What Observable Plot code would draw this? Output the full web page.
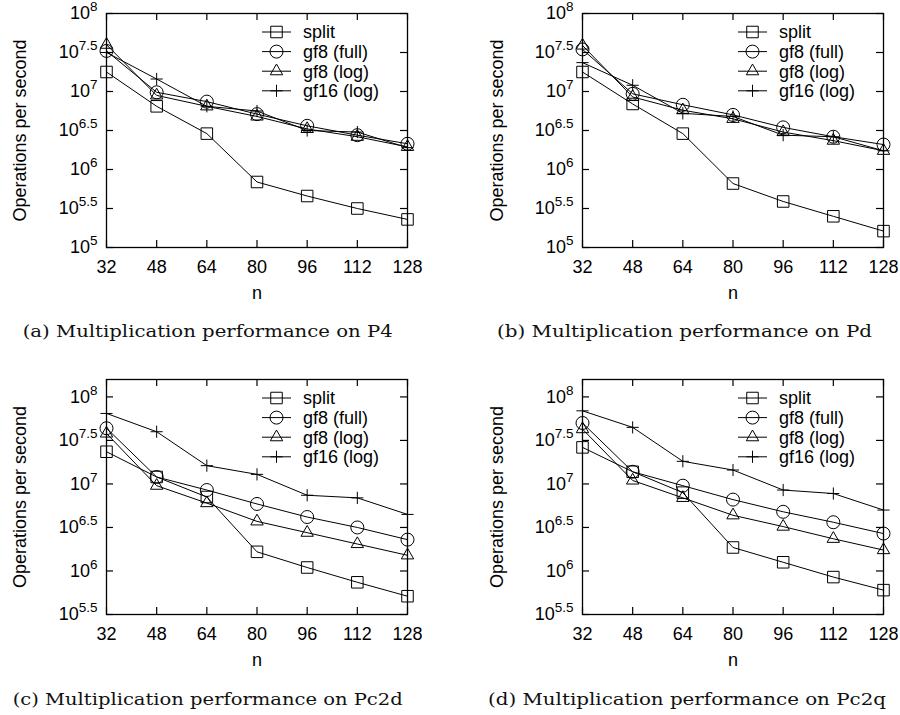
<!DOCTYPE html>
<html><head><meta charset="utf-8">
<script src="https://cdn.jsdelivr.net/npm/d3@7"></script>
<script src="https://cdn.jsdelivr.net/npm/@observablehq/plot@0.6"></script>
<style>
body{margin:0;background:#fff;}
#wrap{position:relative;width:900px;height:715px;overflow:hidden;background:#fff}
.panel{position:absolute}
#caps{position:absolute;left:0;top:0}
</style></head><body><div id="wrap"></div>
<script>
// ---- data (values are log10 of operations per second) ----
const nValues = [32, 48, 64, 80, 96, 112, 128];
const seriesNames = ["split", "gf8 (full)", "gf8 (log)", "gf16 (log)"];
const yTickExpTop = [5, 5.5, 6, 6.5, 7, 7.5, 8];
const yTickExpBottom = [5.5, 6, 6.5, 7, 7.5, 8];

const p4Split = [7.25, 6.81, 6.46, 5.84, 5.66, 5.50, 5.36];
const p4Full  = [7.52, 6.99, 6.87, 6.71, 6.56, 6.44, 6.33];
const p4Log   = [7.60, 6.95, 6.81, 6.68, 6.52, 6.42, 6.29];
const p4Gf16  = [7.50, 7.16, 6.81, 6.75, 6.50, 6.48, 6.28];

const pdSplit = [7.25, 6.84, 6.46, 5.82, 5.59, 5.40, 5.21];
const pdFull  = [7.54, 6.97, 6.83, 6.70, 6.54, 6.42, 6.32];
const pdLog   = [7.59, 6.93, 6.76, 6.65, 6.48, 6.37, 6.24];
const pdGf16  = [7.37, 7.08, 6.72, 6.68, 6.44, 6.42, 6.24];

const pc2dSplit = [7.37, 7.08, 6.85, 6.22, 6.04, 5.87, 5.71];
const pc2dFull  = [7.64, 7.08, 6.93, 6.77, 6.62, 6.50, 6.36];
const pc2dLog   = [7.58, 6.98, 6.78, 6.57, 6.44, 6.31, 6.18];
const pc2dGf16  = [7.81, 7.60, 7.21, 7.11, 6.87, 6.84, 6.65];

const pc2qSplit = [7.42, 7.14, 6.90, 6.27, 6.10, 5.93, 5.78];
const pc2qFull  = [7.70, 7.14, 6.98, 6.82, 6.68, 6.56, 6.43];
const pc2qLog   = [7.63, 7.04, 6.84, 6.64, 6.51, 6.37, 6.24];
const pc2qGf16  = [7.84, 7.65, 7.26, 7.16, 6.93, 6.89, 6.70];

const captions = [
  "(a) Multiplication performance on P4",
  "(b) Multiplication performance on Pd",
  "(c) Multiplication performance on Pc2d",
  "(d) Multiplication performance on Pc2q"
];

// ---- styles / layout ----
const symbolStyle = [
  {symbol: "square", r: 6.5, d3sym: d3.symbolSquare},
  {symbol: "circle", r: 6.5, d3sym: d3.symbolCircle},
  {symbol: "triangle", r: 4.6, d3sym: d3.symbolTriangle},
  {symbol: "plus", r: 4.0, d3sym: d3.symbolPlus}
];
const FONT = "'Liberation Sans', Arial, Helvetica, sans-serif";

const panels = [
  {series: [p4Split, p4Full, p4Log, p4Gf16], left: 0, top: 0, height: 300, mL: 106, mR: 43, mT: 13, mB: 53, dom: [5, 8], ticks: yTickExpTop, ylabDx: -86},
  {series: [pdSplit, pdFull, pdLog, pdGf16], left: 450, top: 0, height: 300, mL: 132, mR: 17, mT: 13, mB: 53, dom: [5, 8], ticks: yTickExpTop, ylabDx: -85},
  {series: [pc2dSplit, pc2dFull, pc2dLog, pc2dGf16], left: 0, top: 350, height: 320, mL: 106, mR: 43, mT: 29, mB: 56, dom: [5.5, 8.2], ticks: yTickExpBottom, ylabDx: -86},
  {series: [pc2qSplit, pc2qFull, pc2qLog, pc2qGf16], left: 450, top: 350, height: 320, mL: 132, mR: 17, mT: 29, mB: 56, dom: [5.5, 8.2], ticks: yTickExpBottom, ylabDx: -85}
];

const wrap = document.getElementById("wrap");
const W = 450, TICK = 7;

panels.forEach((p) => {
  const rows = [];
  p.series.forEach((arr, si) => arr.forEach((e, i) => rows.push({n: nValues[i], v: Math.pow(10, e), series: seriesNames[si]})));
  const innerW = W - p.mL - p.mR, innerH = p.height - p.mT - p.mB;
  const yTicks = p.ticks.map(e => Math.pow(10, e));
  const marks = [
    Plot.line(rows, {x: "n", y: "v", z: "series", stroke: "black", strokeWidth: 1}),
    ...seriesNames.map((s, si) => Plot.dot(rows.filter(r => r.series === s), {
      x: "n", y: "v", symbol: symbolStyle[si].symbol, r: symbolStyle[si].r,
      stroke: "black", fill: "none", strokeWidth: 1
    })),
    Plot.tickX(nValues, {x: d => d, insetTop: innerH - TICK, stroke: "black", strokeWidth: 1.2}),
    Plot.tickX(nValues, {x: d => d, insetBottom: innerH - TICK, stroke: "black", strokeWidth: 1.2}),
    Plot.tickY(yTicks, {y: d => d, insetRight: innerW - TICK, stroke: "black", strokeWidth: 1.2}),
    Plot.tickY(yTicks, {y: d => d, insetLeft: innerW - TICK, stroke: "black", strokeWidth: 1.2}),
    Plot.frame({stroke: "black", strokeWidth: 1.3}),
    Plot.axisX({ticks: nValues, tickSize: 0, tickPadding: 13, label: null, tickFormat: d => String(d), fontSize: 18}),
    Plot.axisY({ticks: yTicks, tickSize: 0, tickPadding: 9, label: null, fontSize: 18,
      tickFormat: d => "10^" + String(Math.round(Math.log10(d) * 10) / 10)}),
    Plot.text(["n"], {frameAnchor: "bottom", dy: 46, text: d => d, lineAnchor: "middle", fontSize: 18, fill: "black"}),
    Plot.text(["Operations per second"], {frameAnchor: "left", dx: p.ylabDx, rotate: -90, text: d => d,
      textAnchor: "middle", lineAnchor: "middle", fontSize: 18, fill: "black"})
  ];
  const svg = Plot.plot({
    width: W, height: p.height,
    marginLeft: p.mL, marginRight: p.mR, marginTop: p.mT, marginBottom: p.mB,
    x: {domain: [32, 128]},
    y: {type: "log", domain: p.dom.map(e => Math.pow(10, e))},
    style: {fontFamily: FONT, fontSize: "18px", color: "black", background: "white", overflow: "visible"},
    marks
  });
  // superscript exponents on y tick labels
  svg.querySelectorAll('g[aria-label="y-axis tick label"] text').forEach(t => {
    const s = t.textContent;
    if (!s.includes("^")) return;
    const [base, exp] = s.split("^");
    while (t.firstChild) t.removeChild(t.firstChild);
    t.appendChild(document.createTextNode(base));
    const ts = document.createElementNS("http://www.w3.org/2000/svg", "tspan");
    ts.setAttribute("dy", "-8");
    ts.setAttribute("font-size", "13.5");
    ts.textContent = exp;
    t.appendChild(ts);
  });
  // legend (top right inside frame)
  const g = d3.select(svg).append("g")
    .attr("transform", `translate(${W - p.mR - 145},${p.mT + 19})`)
    .attr("font-family", FONT).attr("font-size", 18).attr("text-anchor", "start");
  seriesNames.forEach((s, si) => {
    const yy = si * 19.6;
    g.append("line").attr("x1", 0).attr("x2", 29).attr("y1", yy).attr("y2", yy).attr("stroke", "black").attr("stroke-width", 1);
    g.append("path").attr("transform", `translate(14.5,${yy})`)
      .attr("d", d3.symbol(symbolStyle[si].d3sym, Math.PI * symbolStyle[si].r ** 2)())
      .attr("fill", "none").attr("stroke", "black").attr("stroke-width", 1);
    g.append("text").attr("x", 41).attr("y", yy).attr("dy", "0.35em").attr("fill", "black")
      .attr("text-anchor", "start").text(s);
  });
  const div = document.createElement("div");
  div.className = "panel";
  div.style.left = p.left + "px";
  div.style.top = p.top + "px";
  div.appendChild(svg);
  wrap.appendChild(div);
});

// captions
const capPos = [
  {x: 22.7, y: 337, len: 370},
  {x: 497, y: 337, len: 375},
  {x: 12.7, y: 705, len: 390},
  {x: 488, y: 705, len: 398}
];
const caps = d3.select(wrap).append("svg").attr("id", "caps").attr("width", 900).attr("height", 715)
  .style("pointer-events", "none");
captions.forEach((c, i) => {
  caps.append("text").attr("x", capPos[i].x).attr("y", capPos[i].y)
    .attr("font-family", "'DejaVu Serif', 'Liberation Serif', serif").attr("font-size", 16.5)
    .attr("textLength", capPos[i].len).attr("lengthAdjust", "spacingAndGlyphs")
    .attr("fill", "#111").text(c);
});
</script>
</body></html>
